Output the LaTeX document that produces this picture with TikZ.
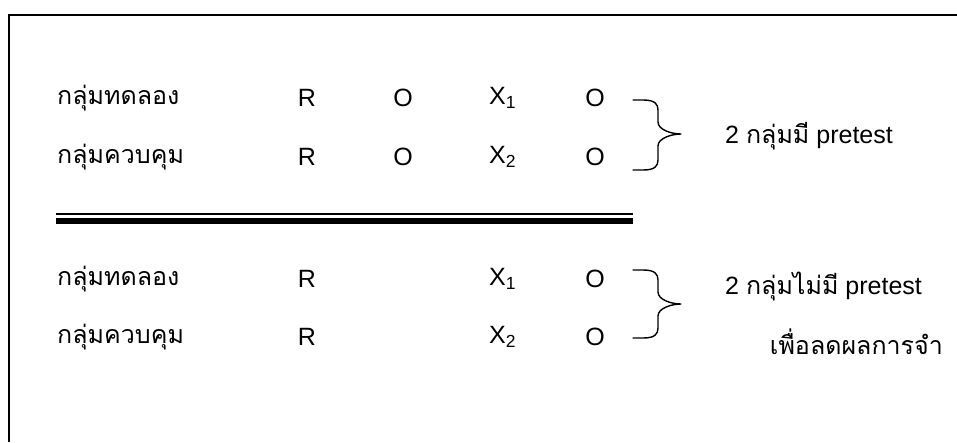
\documentclass[tikz,border=0pt]{standalone}
\usepackage{fontspec}
\setmainfont{Liberation Sans}
\newfontfamily\thaifont[Script=Thai]{Loma}
\begin{document}
\begin{tikzpicture}[x=1pt,y=-1pt,
  txt/.style={inner sep=0pt,font=\fontsize{25}{28}\selectfont},
  thtxt/.style={inner sep=0pt,font=\thaifont\fontsize{25}{28}\selectfont},
  frame/.style={line width=1.8pt},
  bracepath/.style={line width=1.4pt,line cap=round}]
\useasboundingbox (0,0) rectangle (957,442);
% frame (only top and left visible)
\draw[frame] (9,442) -- (9,15) -- (957,15);
% rows
\foreach \r/\y/\lab/\x in {
  r1/98/กลุ่มทดลอง/1,
  r2/157/กลุ่มควบคุม/2} {
  \node[thtxt,anchor=west] (\r g) at (57,\y) {\lab};
  \node[txt] (\r a) at (307,\y) {R};
  \node[txt] (\r b) at (403,\y) {O};
  \node[txt,anchor=west] (\r x) at (489,\y) {X\textsubscript{\x}};
  \node[txt] (\r c) at (595,\y) {O};
}
\foreach \r/\y/\lab/\x in {
  r3/279/กลุ่มทดลอง/1,
  r4/337/กลุ่มควบคุม/2} {
  \node[thtxt,anchor=west] (\r g) at (57,\y) {\lab};
  \node[txt] (\r a) at (307,\y) {R};
  \node[txt,anchor=west] (\r x) at (489,\y) {X\textsubscript{\x}};
  \node[txt] (\r c) at (595,\y) {O};
}
% double rule
\fill (56,213.2) rectangle (633,214.8);
\fill (56,217.5) rectangle (633,224);
% braces
\coordinate (b1t) at (633,100);
\coordinate (b1m) at (681,134);
\coordinate (b1b) at (633,170);
\draw[bracepath] (b1t) -- ++(10,0) .. controls ++(12,0) and ++(0,-6) .. ++(15,10)
  -- ++(0,12) .. controls ++(0,8) and ++(-9,0) .. (b1m)
  (b1m) .. controls ++(-9,0) and ++(0,-8) .. ++(-23,12)
  -- ++(0,14) .. controls ++(0,6) and ++(12,0) .. ++(-15,10) -- (b1b);
\coordinate (b2t) at (633,270);
\coordinate (b2m) at (681,304);
\coordinate (b2b) at (633,338);
\draw[bracepath] (b2t) -- ++(10,0) .. controls ++(12,0) and ++(0,-6) .. ++(15,10)
  -- ++(0,12) .. controls ++(0,8) and ++(-9,0) .. (b2m)
  (b2m) .. controls ++(-9,0) and ++(0,-8) .. ++(-23,12)
  -- ++(0,12) .. controls ++(0,6) and ++(12,0) .. ++(-15,10) -- (b2b);
% labels
\node[txt,anchor=west] (l1) at (725,136) {2 {\thaifont\fontsize{25}{28}\selectfont กลุ่มมี} pretest};
\node[txt,anchor=west] (l2) at (725,287) {2 {\thaifont\fontsize{25}{28}\selectfont กลุ่มไม่มี} pretest};
\node[thtxt,anchor=east] (l3) at (943,342) {เพื่อลดผลการจำ};
\end{tikzpicture}
\end{document}
